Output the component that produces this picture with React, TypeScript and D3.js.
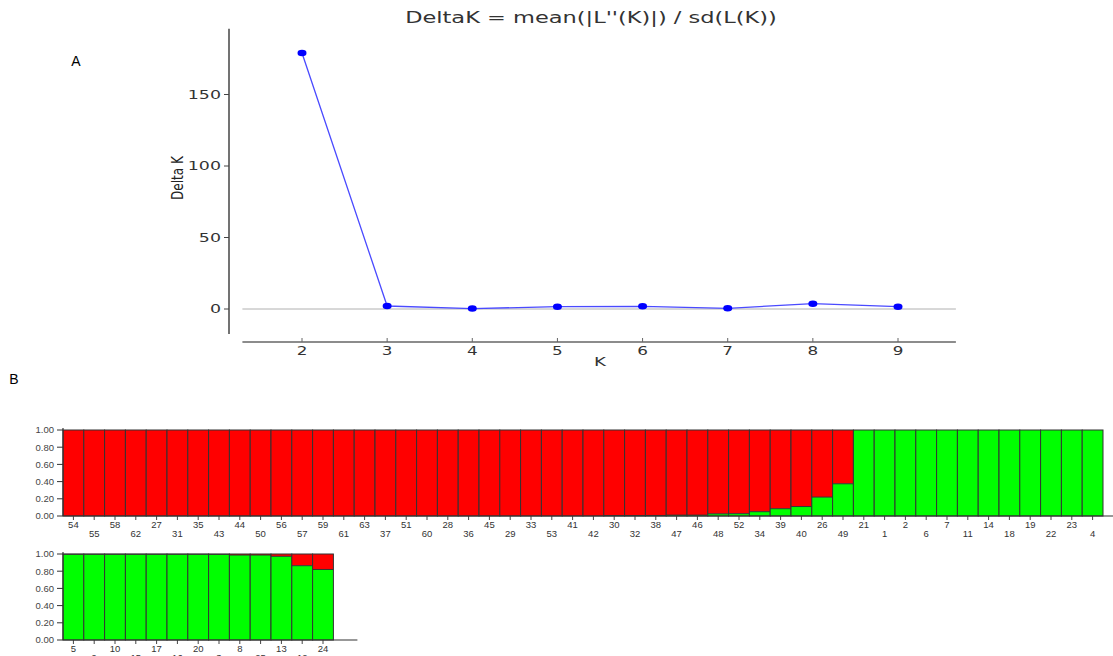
import React from "react";
import * as d3 from "d3";

// ---------- Data ----------
const kValues = [2, 3, 4, 5, 6, 7, 8, 9];
const deltaK = [179, 2.1, 0.3, 1.6, 1.9, 0.5, 3.7, 1.6];
const yTicksTop = [0, 50, 100, 150];

const row1Labels = [
  "54","55","58","62","27","31","35","43","44","50",
  "56","57","59","61","63","37","51","60","28","36",
  "45","29","33","53","41","42","30","32","38","47",
  "46","48","52","34","39","40","26","49","21","1",
  "2","6","7","11","14","18","19","22","23","4",
];
const row1Green = [
  0,0,0,0,0,0,0,0,0,0,
  0,0,0,0,0,0,0,0,0,0,
  0,0,0,0,0,0,0.005,0.005,0.006,0.01,
  0.01,0.025,0.027,0.05,0.085,0.11,0.22,0.375,1,1,
  1,1,1,1,1,1,1,1,1,1,
];
const row2Labels = ["5","9","10","15","17","16","20","3","8","25","13","12","24"];
const row2Green = [0.997,0.997,0.997,0.997,0.997,0.997,0.997,0.996,0.988,0.988,0.973,0.864,0.82];
const yTicksBottom = [0, 0.2, 0.4, 0.6, 0.8, 1.0];

const RED = "#ff0000";
const GREEN = "#00ff00";

function StructureRow({ labels, green, top, step }: { labels: string[]; green: number[]; top: number; step: number }) {
  const left = 63;
  const h = 86;
  const x = d3.scaleBand<string>().domain(labels).range([left, left + step * labels.length]).paddingInner(0).paddingOuter(0);
  const y = d3.scaleLinear().domain([0, 1]).range([top + h, top]);
  const axisEnd = left + step * labels.length + (labels.length > 20 ? 12 : 24);
  return (
    <g>
      {labels.map((lab, i) => {
        const bx = x(lab)!;
        const bw = x.bandwidth();
        const g = green[i];
        return (
          <g key={lab}>
            <rect x={bx} y={y(1)} width={bw} height={y(g) - y(1)} fill={RED} />
            <rect x={bx} y={y(g)} width={bw} height={y(0) - y(g)} fill={GREEN} />
            {g > 0 && g < 1 && (
              <line x1={bx} x2={bx + bw} y1={y(g)} y2={y(g)} stroke="#333" strokeWidth={1} />
            )}
            <rect x={bx} y={y(1)} width={bw} height={y(0) - y(1)} fill="none" stroke="#333" strokeWidth={1} />
            <line x1={bx + bw / 2} x2={bx + bw / 2} y1={y(0)} y2={y(0) + 4} stroke="#444" />
            <text
              x={bx + bw / 2}
              y={y(0) + (i % 2 === 0 ? 12 : 21)}
              textAnchor="middle"
              fontSize={9.5}
              fill="#333"
              fontFamily="'Liberation Sans', Arial, sans-serif"
            >
              {lab}
            </text>
          </g>
        );
      })}
      <line x1={left} x2={left} y1={y(1) - 2} y2={y(0)} stroke="#333" strokeWidth={1.2} />
      <line x1={left} x2={axisEnd} y1={y(0)} y2={y(0)} stroke="#333" strokeWidth={1.2} />
      {yTicksBottom.map((t) => (
        <g key={t}>
          <line x1={left - 6} x2={left} y1={y(t)} y2={y(t)} stroke="#333" />
          <text
            x={left - 9}
            y={y(t)}
            dy="0.35em"
            textAnchor="end"
            fontSize={9.5}
            fill="#444"
            fontFamily="'Liberation Sans', Arial, sans-serif"
          >
            {t.toFixed(2)}
          </text>
        </g>
      ))}
    </g>
  );
}

function WideText({ x, y, children, anchor = "middle", size = 12, sx = 1.4, dy = "0" }: any) {
  return (
    <g transform={`translate(${x},${y}) scale(${sx},1)`}>
      <text x={0} y={0} dy={dy} textAnchor={anchor} fontSize={size} fontFamily="'DejaVu Sans', Verdana, sans-serif" fill="#333">
        {children}
      </text>
    </g>
  );
}

export default function App() {
  const xK = d3.scaleLinear().domain([2, 9]).range([302, 898]);
  const yD = d3.scaleLinear().domain([0, 150]).range([309, 94.5]);
  const line = d3
    .line<number>()
    .x((_, i) => xK(kValues[i]))
    .y((d) => yD(d));
  const step = 20.8;

  return (
    <svg width={1113} height={656} style={{ position: "absolute", left: 0, top: 0, display: "block", background: "#fff" }}>
      {/* Panel A */}
      <WideText x={591} y={23} size={15} sx={1.5}>
        DeltaK = mean(|L''(K)|) / sd(L(K))
      </WideText>
      <text x={76} y={66} textAnchor="middle" fontSize={14} fontFamily="'Liberation Sans', Arial, sans-serif" fill="#000">
        A
      </text>
      {/* y axis */}
      <line x1={229} x2={229} y1={yD(196)} y2={yD(-17.5)} stroke="#444" strokeWidth={1.5} />
      {yTicksTop.map((t) => (
        <g key={t}>
          <line x1={224} x2={229} y1={yD(t)} y2={yD(t)} stroke="#444" />
          <WideText x={221} y={yD(t)} dy="0.35em" anchor="end" size={12} sx={1.45}>
            {t}
          </WideText>
        </g>
      ))}
      <text
        transform={`translate(183,${yD(100) + 12}) rotate(-90)`}
        textAnchor="middle"
        fontSize={15}
        textLength={44}
        lengthAdjust="spacingAndGlyphs"
        fontFamily="'Liberation Sans Narrow', 'DejaVu Sans Condensed', sans-serif"
        fill="#222"
      >
        Delta K
      </text>
      {/* zero line */}
      <line x1={xK(1.3)} x2={xK(9.68)} y1={yD(0)} y2={yD(0)} stroke="#b0b0b0" strokeWidth={1} />
      {/* x axis */}
      <line x1={xK(1.3)} x2={xK(9.68)} y1={342} y2={342} stroke="#666" strokeWidth={1.5} />
      {kValues.map((k) => (
        <g key={k}>
          <line x1={xK(k)} x2={xK(k)} y1={338} y2={342} stroke="#666" />
          <WideText x={xK(k)} y={355} size={12} sx={1.4}>
            {k}
          </WideText>
        </g>
      ))}
      <WideText x={600} y={366} size={13} sx={1.4}>
        K
      </WideText>
      {/* series */}
      <path d={line(deltaK) || ""} fill="none" stroke="#4a4aff" strokeWidth={1.3} />
      {deltaK.map((v, i) => (
        <ellipse key={i} cx={xK(kValues[i])} cy={yD(v)} rx={4.5} ry={3.2} fill="#0000ff" />
      ))}

      {/* Panel B */}
      <text x={14} y={384} textAnchor="middle" fontSize={14} fontFamily="'Liberation Sans', Arial, sans-serif" fill="#000">
        B
      </text>
      <StructureRow labels={row1Labels} green={row1Green} top={430} step={step} />
      <StructureRow labels={row2Labels} green={row2Green} top={554} step={step} />
    </svg>
  );
}
